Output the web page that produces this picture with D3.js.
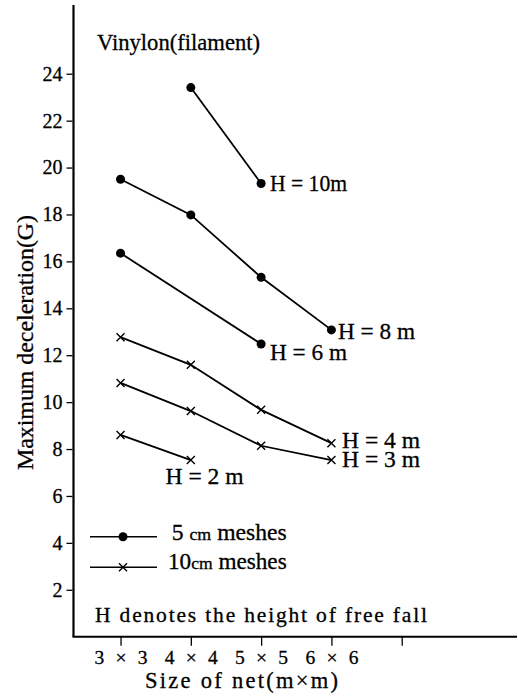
<!DOCTYPE html>
<html><head><meta charset="utf-8">
<script src="https://cdn.jsdelivr.net/npm/d3@7"></script>
<style>body{margin:0;background:#fff}svg{display:block}</style>
</head><body>
<svg id="c" width="518" height="697"></svg>
<script>
const FONT = "'Liberation Serif'";
// Net sizes (m) : 3x3, 4x4, 5x5, 6x6
const sizes = [3, 4, 5, 6];
const sizeLabels = ["3 × 3", "4 × 4", "5 × 5", "6 × 6"];
const yTicks = [2, 4, 6, 8, 10, 12, 14, 16, 18, 20, 22, 24];
const xTicks = [3, 4, 5, 6, 7];

// 5 cm meshes (dots)
const h10 = [[4, 23.41], [5, 19.32]];
const h8  = [[3, 19.5], [4, 17.98], [5, 15.32], [6, 13.08]];
const h6  = [[3, 16.35], [5, 12.48]];
// 10 cm meshes (crosses)
const h4  = [[3, 12.77], [4, 11.59], [5, 9.67], [6, 8.25]];
const h3  = [[3, 10.82], [4, 9.62], [5, 8.14], [6, 7.53]];
const h2  = [[3, 8.6], [4, 7.53]];

const series = [
  {pts: h10, mark: "dot", lab: "H = 10m", lx: 270, ly: 190.7, w: 77, fs: 24},
  {pts: h8, mark: "dot", lab: "H = 8 m", lx: 338, ly: 339, w: 77, fs: 24},
  {pts: h6, mark: "dot", lab: "H = 6 m", lx: 270, ly: 360, w: 77, fs: 24},
  {pts: h4, mark: "cross", lab: "H = 4 m", lx: 342, ly: 448.3, w: 78, fs: 23},
  {pts: h3, mark: "cross", lab: "H = 3 m", lx: 342, ly: 466.7, w: 78, fs: 23},
  {pts: h2, mark: "cross", lab: "H = 2 m", lx: 165.5, ly: 484, w: 78, fs: 24}
];

const svg = d3.select("#c");
const x = d3.scaleLinear().domain([2.331, 8.64]).range([73.5, 517]);
const y = d3.scaleLinear().domain([0, 26.93]).range([636.7, 5]);

function txt(sel, size) {
  return sel.style("font-family", FONT).style("font-size", size + "px").attr("fill", "#000")
    .attr("stroke", "#000").attr("stroke-width", 0.3);
}

// axis lines
svg.append("line").attr("x1", x(2.331)).attr("x2", x(2.331)).attr("y1", y(26.93)).attr("y2", y(0))
  .attr("stroke", "#000").attr("stroke-width", 2.2);
svg.append("line").attr("x1", x(2.331) - 1).attr("x2", x(8.64)).attr("y1", y(0)).attr("y2", y(0))
  .attr("stroke", "#000").attr("stroke-width", 2);

// y axis
const ya = svg.append("g").attr("transform", `translate(${x(2.331) - 1},0)`)
  .call(d3.axisLeft(y).tickValues(yTicks).tickSize(6).tickPadding(4).tickSizeOuter(0));
ya.attr("font-family", null).attr("font-size", null);
ya.select(".domain").remove();
ya.selectAll(".tick line").attr("stroke-width", 1.3);
txt(ya.selectAll(".tick text"), 20);

// x axis
const xa = svg.append("g").attr("transform", `translate(0,${y(0)})`)
  .call(d3.axisBottom(x).tickValues(xTicks).tickSize(9).tickPadding(4).tickSizeOuter(0)
    .tickFormat(d => { const i = sizes.indexOf(d); return i >= 0 ? sizeLabels[i] : ""; }));
xa.attr("font-family", null).attr("font-size", null);
xa.select(".domain").remove();
xa.selectAll(".tick line").attr("stroke-width", 1.3);
txt(xa.selectAll(".tick text"), 19.5).attr("textLength", d => sizes.indexOf(d) >= 0 ? 53 : null).attr("lengthAdjust", "spacing");

// titles
txt(svg.append("text"), 22.5).attr("x", 241.5).attr("y", 688).attr("text-anchor", "middle")
  .attr("textLength", 193).attr("lengthAdjust", "spacing").text("Size of net(m×m)");
txt(svg.append("text"), 24).attr("transform", "translate(33,342.5) rotate(-90)").attr("text-anchor", "middle")
  .attr("textLength", 255).attr("lengthAdjust", "spacingAndGlyphs").text("Maximum deceleration(G)");
txt(svg.append("text"), 23).attr("x", 97).attr("y", 50)
  .attr("textLength", 163).attr("lengthAdjust", "spacingAndGlyphs").text("Vinylon(filament)");

// series
const line = d3.line().x(d => x(d[0])).y(d => y(d[1]));
function drawMark(g, mk, cx, cy) {
  if (mk === "dot") {
    g.append("circle").attr("cx", cx).attr("cy", cy).attr("r", 4.5).attr("fill", "#000");
  } else {
    const s = 4;
    g.append("path").attr("d", `M${cx - s},${cy - s}L${cx + s},${cy + s}M${cx - s},${cy + s}L${cx + s},${cy - s}`)
      .attr("stroke", "#000").attr("stroke-width", 1.4).attr("fill", "none");
  }
}
series.forEach(s => {
  const g = svg.append("g");
  g.append("path").attr("d", line(s.pts)).attr("fill", "none").attr("stroke", "#000").attr("stroke-width", 1.8);
  s.pts.forEach(p => drawMark(g, s.mark, x(p[0]), y(p[1])));
  txt(g.append("text"), s.fs).attr("x", s.lx).attr("y", s.ly)
    .attr("textLength", s.w).attr("lengthAdjust", "spacingAndGlyphs").text(s.lab);
});

// legend
const leg = [
  {mk: "dot", y: 536.7, num: "5 ", tx: 171.7, w: 115, by: 540},
  {mk: "cross", y: 567.3, num: "10", tx: 168, w: 118.7, by: 569.3}
];
leg.forEach(l => {
  const g = svg.append("g");
  g.append("line").attr("x1", 90).attr("x2", 157).attr("y1", l.y).attr("y2", l.y).attr("stroke", "#000").attr("stroke-width", 1.6);
  drawMark(g, l.mk, 123, l.y);
  const t = txt(g.append("text"), 22.5).attr("x", l.tx).attr("y", l.by)
    .attr("textLength", l.w).attr("lengthAdjust", "spacingAndGlyphs");
  t.append("tspan").text(l.num);
  t.append("tspan").style("font-size", "17px").text("cm");
  t.append("tspan").text("  meshes");
});
txt(svg.append("text"), 21.5).attr("x", 95).attr("y", 621.7)
  .attr("textLength", 332).attr("lengthAdjust", "spacing").text("H  denotes the height of free fall");
</script>
</body></html>
